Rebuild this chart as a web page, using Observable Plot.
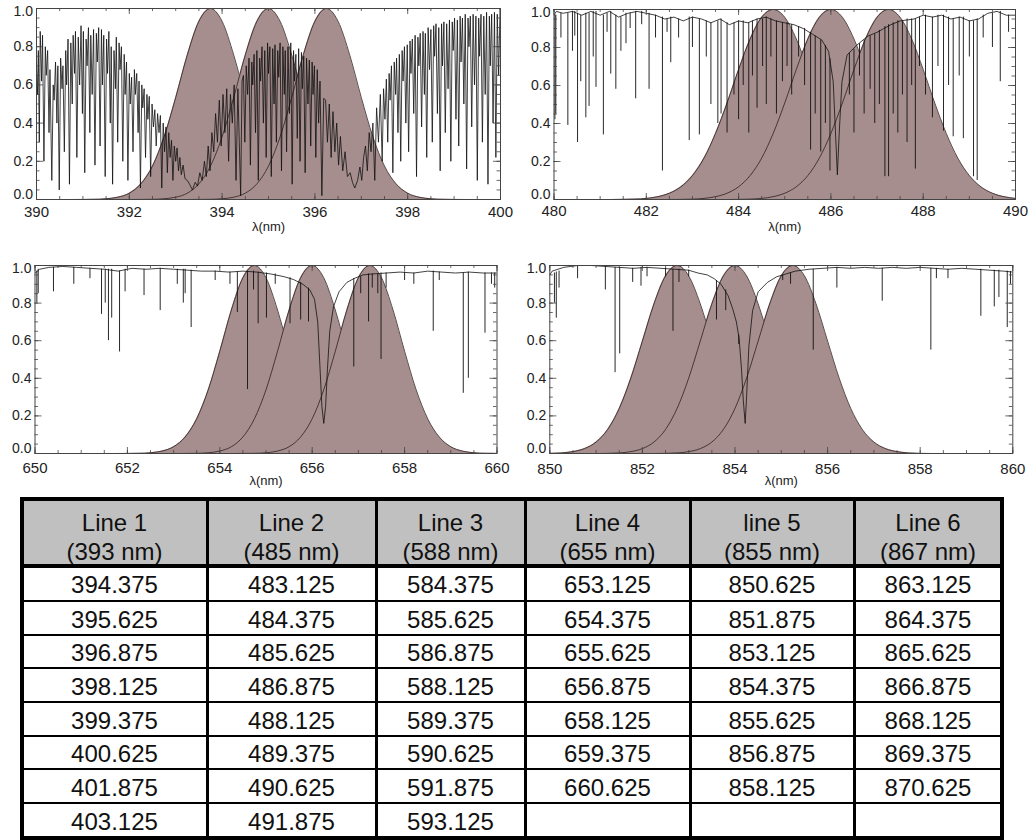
<!DOCTYPE html>
<html>
<head>
<meta charset="utf-8">
<script src="https://cdn.jsdelivr.net/npm/d3@7"></script>
<script src="https://cdn.jsdelivr.net/npm/@observablehq/plot@0.6"></script>
<style>
  body { margin: 0; background: #fff; }
  #page { position: relative; width: 1031px; height: 840px; font-family: "Liberation Sans", Arial, Helvetica, sans-serif; }
  #page svg { position: absolute; }
  .cell { position: absolute; display: flex; align-items: center; justify-content: center; text-align: center;
          font-size: 24px; line-height: 28.5px; color: #111; }
  .rule { position: absolute; background: #000; }
</style>
</head>
<body>
<div id="page"></div>
<script>
// ---------- Filter transmission profiles (half profile, symmetric about each centre) ----------
const profileOffsets = [0, 0.25, 0.5, 0.75, 1.0, 1.25, 1.5, 1.75, 2.0, 2.25, 2.5, 3.0, 3.5];
const profile393 = [1, 0.933, 0.757, 0.534, 0.328, 0.175, 0.082, 0.033, 0.012, 0.004, 0.001, 0, 0];
const profile486 = [1, 0.959, 0.845, 0.684, 0.508, 0.348, 0.218, 0.126, 0.067, 0.033, 0.015, 0.002, 0];
const profile656 = [1, 0.935, 0.763, 0.544, 0.339, 0.185, 0.088, 0.036, 0.013, 0.004, 0.001, 0, 0];
const profile854 = [1, 0.945, 0.796, 0.598, 0.401, 0.240, 0.128, 0.061, 0.026, 0.010, 0.003, 0, 0];

// Filter centres (nm)
const filters393 = [393.75, 395.0, 396.25];
const filters486 = [484.75, 486.0, 487.25];
const filters656 = [654.75, 656.0, 657.25];
const filters854 = [852.75, 854.0, 855.25];

// Axis tick values
const xTicks393 = [390, 392, 394, 396, 398, 400];
const xTicks486 = [480, 482, 484, 486, 488, 490];
const xTicks656 = [650, 652, 654, 656, 658, 660];
const xTicks854 = [850, 852, 854, 856, 858, 860];
const yTicks = [0, 0.2, 0.4, 0.6, 0.8, 1.0];

// ---------- Normalised solar spectra: [wavelength nm, intensity] ----------
// Ca II H & K region
const spectrum393 = [
  [390.00,0.70],[390.02,0.55],[390.04,0.78],[390.06,0.30],[390.08,0.88],[390.11,0.62],[390.13,0.86],[390.16,0.20],
  [390.19,0.80],[390.21,0.65],[390.24,0.78],[390.27,0.35],[390.29,0.68],[390.33,0.10],[390.36,0.60],[390.38,0.52],
  [390.41,0.72],[390.44,0.40],[390.46,0.70],[390.49,0.05],[390.52,0.74],[390.55,0.58],[390.57,0.70],[390.60,0.25],
  [390.63,0.78],[390.65,0.60],[390.68,0.84],[390.71,0.08],[390.74,0.82],[390.77,0.50],[390.79,0.86],[390.82,0.66],
  [390.84,0.88],[390.87,0.22],[390.90,0.85],[390.93,0.60],[390.96,0.91],[390.99,0.45],[391.01,0.88],[391.04,0.14],
  [391.07,0.84],[391.09,0.70],[391.12,0.90],[391.15,0.35],[391.17,0.86],[391.20,0.55],[391.23,0.89],[391.26,0.18],
  [391.29,0.87],[391.31,0.72],[391.34,0.90],[391.37,0.28],[391.40,0.89],[391.42,0.60],[391.45,0.86],[391.48,0.12],
  [391.51,0.84],[391.53,0.66],[391.56,0.88],[391.59,0.40],[391.61,0.80],[391.64,0.08],[391.67,0.78],[391.70,0.58],
  [391.72,0.85],[391.75,0.30],[391.78,0.82],[391.80,0.68],[391.83,0.80],[391.86,0.20],[391.89,0.76],[391.91,0.55],
  [391.94,0.72],[391.97,0.10],[392.00,0.66],[392.02,0.50],[392.05,0.64],[392.08,0.25],[392.11,0.68],[392.13,0.55],
  [392.16,0.66],[392.19,0.35],[392.21,0.62],[392.24,0.06],[392.27,0.60],[392.29,0.48],[392.32,0.58],[392.35,0.22],
  [392.38,0.55],[392.40,0.42],[392.43,0.54],[392.46,0.12],[392.49,0.50],[392.52,0.38],[392.55,0.47],[392.58,0.28],
  [392.61,0.45],[392.64,0.35],[392.67,0.44],[392.70,0.06],[392.73,0.40],[392.76,0.25],[392.79,0.38],[392.82,0.14],
  [392.85,0.35],[392.88,0.22],[392.91,0.31],[392.94,0.10],[392.97,0.28],[393.00,0.20],[393.03,0.27],[393.06,0.15],
  [393.09,0.22],[393.12,0.13],[393.16,0.18],[393.20,0.11],[393.25,0.10],[393.30,0.08],[393.36,0.05],[393.42,0.09],
  [393.47,0.07],[393.52,0.14],[393.57,0.10],[393.62,0.20],[393.66,0.12],[393.70,0.28],[393.74,0.15],[393.78,0.35],
  [393.82,0.25],[393.86,0.45],[393.90,0.30],[393.94,0.52],[393.98,0.28],[394.02,0.55],[394.06,0.35],[394.10,0.58],
  [394.14,0.20],[394.18,0.55],[394.22,0.40],[394.26,0.60],[394.30,0.10],[394.34,0.58],[394.37,0.30],[394.40,0.02],
  [394.43,0.62],[394.46,0.65],[394.49,0.30],[394.52,0.70],[394.55,0.55],[394.58,0.74],[394.61,0.18],[394.64,0.72],
  [394.66,0.60],[394.69,0.76],[394.72,0.35],[394.75,0.78],[394.78,0.10],[394.81,0.74],[394.83,0.62],[394.86,0.80],
  [394.89,0.40],[394.92,0.78],[394.95,0.22],[394.98,0.82],[395.00,0.66],[395.03,0.80],[395.06,0.12],[395.09,0.79],
  [395.12,0.50],[395.14,0.81],[395.17,0.30],[395.20,0.78],[395.22,0.64],[395.25,0.82],[395.28,0.15],[395.31,0.80],
  [395.34,0.55],[395.36,0.78],[395.39,0.25],[395.42,0.80],[395.45,0.45],[395.48,0.82],[395.51,0.08],[395.54,0.78],
  [395.56,0.62],[395.59,0.76],[395.62,0.32],[395.65,0.79],[395.68,0.20],[395.71,0.77],[395.73,0.58],[395.76,0.75],
  [395.79,0.14],[395.82,0.74],[395.85,0.50],[395.88,0.73],[395.91,0.28],[395.94,0.72],[395.96,0.55],[395.99,0.70],
  [396.02,0.22],[396.05,0.68],[396.08,0.40],[396.11,0.62],[396.15,0.02],[396.19,0.53],[396.23,0.52],[396.27,0.30],
  [396.31,0.50],[396.35,0.22],[396.39,0.46],[396.43,0.25],[396.47,0.40],[396.51,0.18],[396.55,0.33],[396.60,0.15],
  [396.65,0.25],[396.70,0.12],[396.76,0.14],[396.81,0.09],[396.86,0.06],[396.92,0.10],[396.97,0.17],[397.01,0.10],
  [397.05,0.22],[397.09,0.28],[397.13,0.15],[397.17,0.35],[397.21,0.25],[397.25,0.40],[397.29,0.10],[397.33,0.48],
  [397.37,0.30],[397.41,0.55],[397.45,0.20],[397.48,0.58],[397.51,0.42],[397.54,0.63],[397.57,0.30],[397.60,0.66],
  [397.62,0.52],[397.65,0.70],[397.68,0.14],[397.71,0.72],[397.74,0.55],[397.76,0.74],[397.79,0.35],[397.82,0.76],
  [397.85,0.20],[397.88,0.78],[397.90,0.62],[397.93,0.80],[397.96,0.40],[397.99,0.81],[398.02,0.25],[398.05,0.83],
  [398.07,0.66],[398.10,0.84],[398.13,0.45],[398.16,0.86],[398.19,0.12],[398.22,0.85],[398.24,0.70],[398.27,0.87],
  [398.30,0.38],[398.33,0.88],[398.36,0.55],[398.38,0.87],[398.41,0.22],[398.44,0.90],[398.47,0.68],[398.50,0.89],
  [398.53,0.30],[398.56,0.91],[398.58,0.75],[398.61,0.92],[398.64,0.45],[398.67,0.90],[398.70,0.15],[398.73,0.92],
  [398.75,0.70],[398.78,0.93],[398.81,0.35],[398.84,0.92],[398.87,0.58],[398.90,0.94],[398.93,0.20],[398.96,0.93],
  [398.98,0.78],[399.01,0.95],[399.04,0.42],[399.07,0.94],[399.10,0.28],[399.13,0.96],[399.15,0.72],[399.18,0.95],
  [399.21,0.50],[399.24,0.97],[399.27,0.16],[399.30,0.95],[399.32,0.80],[399.35,0.96],[399.38,0.38],[399.41,0.97],
  [399.44,0.60],[399.47,0.96],[399.50,0.10],[399.53,0.95],[399.55,0.75],[399.58,0.97],[399.61,0.30],[399.64,0.96],
  [399.67,0.55],[399.70,0.98],[399.73,0.08],[399.76,0.96],[399.78,0.70],[399.81,0.97],[399.84,0.40],[399.87,0.98],
  [399.90,0.22],[399.93,0.97],[399.96,0.65],[399.99,1.00],[400.00,0.98]
];

// H-beta region: smooth envelope plus narrow absorption lines [nm, envelope, line depth]
const continuum486 = [
  [480.00,0.97],[480.05,0.99],[480.20,0.98],[480.40,0.99],[480.60,0.97],[480.80,0.99],[481.00,0.97],[481.20,0.99],
  [481.40,0.96],[481.60,0.98],[481.80,0.99],[482.00,0.98],[482.20,0.97],[482.40,0.95],[482.60,0.96],[482.80,0.94],
  [483.00,0.96],[483.20,0.95],[483.40,0.93],[483.60,0.95],[483.80,0.92],[484.00,0.94],[484.20,0.93],[484.40,0.95],
  [484.60,0.96],[484.80,0.94],[485.00,0.93],[485.20,0.92],[485.40,0.90],[485.60,0.87],[485.80,0.84],[485.95,0.78],
  [486.05,0.62],[486.10,0.35],[486.14,0.13],[486.18,0.35],[486.24,0.62],[486.35,0.76],[486.55,0.81],[486.80,0.86],
  [487.00,0.88],[487.30,0.92],[487.50,0.94],[487.80,0.95],[488.00,0.97],[488.20,0.96],[488.40,0.97],[488.60,0.95],
  [488.80,0.96],[489.00,0.94],[489.20,0.95],[489.40,0.98],[489.60,0.99],[489.80,0.97],[490.00,0.97]
];
const lines486 = [
  [480.02,0.97,0.42],[480.04,0.97,0.45],[480.15,0.98,0.85],[480.30,0.98,0.39],[480.40,0.99,0.78],[480.45,0.99,0.86],
  [480.51,0.98,0.30],[480.58,0.97,0.62],[480.69,0.98,0.43],[480.76,0.98,0.49],[480.85,0.99,0.75],[480.91,0.99,0.59],
  [481.07,0.97,0.34],[481.15,0.98,0.88],[481.23,0.99,0.66],[481.34,0.97,0.58],[481.45,0.96,0.78],[481.56,0.98,0.82],
  [481.65,0.98,0.90],[481.77,0.99,0.53],[481.90,0.99,0.92],[482.06,0.98,0.58],[482.20,0.97,0.85],[482.35,0.96,0.15],
  [482.45,0.95,0.88],[482.53,0.96,0.72],[482.70,0.95,0.85],[482.93,0.96,0.31],[483.00,0.96,0.80],[483.15,0.95,0.34],
  [483.30,0.94,0.75],[483.40,0.93,0.50],[483.55,0.94,0.40],[483.62,0.95,0.45],[483.75,0.93,0.35],[483.90,0.93,0.55],
  [484.00,0.94,0.42],[484.10,0.94,0.60],[484.22,0.93,0.35],[484.30,0.94,0.65],[484.40,0.95,0.48],[484.52,0.95,0.70],
  [484.60,0.96,0.50],[484.70,0.95,0.75],[484.82,0.94,0.45],[484.95,0.93,0.62],[485.05,0.93,0.70],[485.15,0.92,0.55],
  [485.30,0.91,0.75],[485.43,0.90,0.60],[485.56,0.88,0.26],[485.66,0.86,0.45],[485.78,0.84,0.25],[485.88,0.81,0.40],
  [485.98,0.74,0.15],[486.40,0.77,0.55],[486.50,0.79,0.35],[486.62,0.82,0.65],[486.72,0.84,0.45],[486.85,0.86,0.58],
  [486.95,0.87,0.40],[487.05,0.89,0.50],[487.17,0.91,0.12],[487.25,0.92,0.12],[487.35,0.93,0.45],[487.45,0.94,0.35],
  [487.55,0.94,0.55],[487.65,0.95,0.30],[487.75,0.95,0.60],[487.83,0.95,0.16],[487.92,0.96,0.70],[488.05,0.97,0.55],
  [488.20,0.96,0.43],[488.32,0.97,0.70],[488.44,0.97,0.36],[488.55,0.96,0.60],[488.65,0.95,0.33],[488.78,0.96,0.65],
  [488.87,0.96,0.32],[489.00,0.94,0.75],[489.09,0.94,0.12],[489.17,0.95,0.10],[489.30,0.97,0.85],[489.50,0.98,0.80],
  [489.67,0.99,0.62],[489.85,0.97,0.88]
];

// H-alpha region
const continuum656 = [
  [650.00,0.96],[650.10,0.98],[650.30,0.99],[650.60,0.995],[650.90,0.99],[651.20,0.985],[651.50,0.98],[651.80,0.97],
  [652.10,0.985],[652.40,0.98],[652.70,0.985],[653.00,0.98],[653.30,0.975],[653.60,0.97],[653.90,0.97],[654.20,0.965],
  [654.50,0.97],[654.80,0.965],[655.10,0.955],[655.40,0.94],[655.60,0.925],[655.80,0.90],[655.95,0.87],[656.05,0.82],
  [656.12,0.70],[656.17,0.45],[656.21,0.25],[656.25,0.16],[656.29,0.25],[656.33,0.45],[656.38,0.65],[656.46,0.78],
  [656.58,0.86],[656.75,0.91],[656.90,0.93],[657.10,0.95],[657.30,0.955],[657.60,0.96],[657.90,0.965],[658.20,0.96],
  [658.50,0.97],[658.80,0.965],[659.10,0.96],[659.40,0.965],[659.70,0.96],[660.00,0.96]
];
const lines656 = [
  [650.04,0.97,0.80],[650.07,0.98,0.85],[650.40,0.99,0.86],[650.84,0.99,0.90],[651.19,0.985,0.93],[651.44,0.98,0.74],
  [651.52,0.98,0.80],[651.59,0.98,0.60],[651.66,0.98,0.72],[651.83,0.97,0.54],[651.95,0.98,0.86],[652.36,0.98,0.84],
  [652.71,0.985,0.76],[653.08,0.98,0.90],[653.21,0.98,0.80],[653.25,0.98,0.85],[653.38,0.975,0.67],[653.90,0.97,0.92],
  [654.22,0.965,0.90],[654.38,0.965,0.75],[654.60,0.97,0.34],[654.73,0.97,0.87],[654.83,0.965,0.69],[655.01,0.96,0.72],
  [655.20,0.955,0.90],[655.52,0.935,0.69],[655.75,0.91,0.71],[655.92,0.88,0.70],[656.90,0.93,0.46],[657.05,0.94,0.85],
  [657.22,0.955,0.70],[657.30,0.955,0.88],[657.42,0.955,0.85],[657.49,0.96,0.50],[657.60,0.96,0.88],[658.00,0.965,0.92],
  [658.20,0.96,0.90],[658.62,0.97,0.65],[658.75,0.965,0.92],[659.27,0.96,0.32],[659.38,0.965,0.40],[659.74,0.96,0.64],
  [659.88,0.96,0.90],[659.95,0.96,0.88]
];

// Ca II 854.2 nm region
const continuum854 = [
  [850.00,0.95],[850.05,0.97],[850.30,0.99],[850.60,1.00],[850.90,1.00],[851.20,0.995],[851.50,0.99],[851.80,0.985],
  [852.10,0.99],[852.40,0.985],[852.70,0.98],[853.00,0.975],[853.20,0.96],[853.40,0.95],[853.55,0.93],[853.70,0.90],
  [853.85,0.84],[853.95,0.77],[854.03,0.70],[854.09,0.61],[854.14,0.45],[854.18,0.28],[854.22,0.16],[854.25,0.30],
  [854.30,0.57],[854.38,0.76],[854.50,0.86],[854.70,0.91],[854.90,0.94],[855.10,0.955],[855.30,0.97],[855.60,0.98],
  [855.90,0.985],[856.20,0.99],[856.50,0.985],[856.80,0.99],[857.10,0.985],[857.40,0.99],[857.70,0.985],[858.00,0.99],
  [858.30,0.985],[858.60,0.98],[858.90,0.985],[859.20,0.98],[859.50,0.975],[859.80,0.97],[860.00,0.965]
];
const lines854 = [
  [850.10,0.96,0.80],[850.14,0.965,0.72],[850.20,0.97,0.88],[850.60,1.00,0.93],[851.20,0.995,0.87],[851.41,0.99,0.43],
  [851.51,0.99,0.53],[851.79,0.985,0.91],[851.97,0.99,0.89],[852.10,0.99,0.94],[852.50,0.985,0.94],[852.66,0.98,0.65],
  [852.79,0.98,0.91],[853.00,0.975,0.94],[853.60,0.92,0.71],[853.80,0.87,0.76],[854.08,0.63,0.58],[855.03,0.95,0.92],
  [855.20,0.96,0.90],[855.69,0.98,0.55],[856.20,0.99,0.88],[857.18,0.985,0.81],[858.23,0.985,0.55],[858.35,0.985,0.93],
  [858.60,0.98,0.93],[859.31,0.98,0.73],[859.60,0.975,0.78],[859.70,0.975,0.83],[859.88,0.97,0.67],[859.95,0.968,0.90]
];

// ---------- Table of filter positions ----------
const lineNames   = ["Line 1", "Line 2", "Line 3", "Line 4", "line 5", "Line 6"];
const lineCentres = [393, 485, 588, 655, 855, 867];
const positions1 = [394.375, 395.625, 396.875, 398.125, 399.375, 400.625, 401.875, 403.125];
const positions2 = [483.125, 484.375, 485.625, 486.875, 488.125, 489.375, 490.625, 491.875];
const positions3 = [584.375, 585.625, 586.875, 588.125, 589.375, 590.625, 591.875, 593.125];
const positions4 = [653.125, 654.375, 655.625, 656.875, 658.125, 659.375, 660.625];
const positions5 = [850.625, 851.875, 853.125, 854.375, 855.625, 856.875, 858.125];
const positions6 = [863.125, 864.375, 865.625, 866.875, 868.125, 869.375, 870.625];

// ---------- Drawing ----------
const page = document.getElementById("page");
const FILL = "#a68e8e", EDGE = "#2e2020", INK = "#111", AXIS = "#444";

function spectrumPanel(o) {
  const {domain, ticks, filters, profile, line, continuum, lines,
         left, top, width, height, mt, mb, ml, mr, pad} = o;
  const innerW = width - ml - mr, innerH = height - mt - mb;

  // mirror the half profile into a full symmetric profile
  const fullProfile = [
    ...profile.slice(1).map((t, i) => [-profileOffsets[i + 1], t]).reverse(),
    ...profile.map((t, i) => [profileOffsets[i], t])
  ];

  const marks = [];
  for (const c of filters) {
    const pts = fullProfile.map(([dx, t]) => ({x: c + dx, y: t}));
    marks.push(Plot.areaY(pts, {x: "x", y: "y", fill: FILL, curve: "monotone-x", clip: true}));
    marks.push(Plot.lineY(pts, {x: "x", y: "y", stroke: EDGE, strokeWidth: 0.8, curve: "monotone-x", clip: true}));
  }
  if (line) marks.push(Plot.line(line, {x: d => d[0], y: d => d[1], stroke: INK, strokeWidth: 0.8, clip: true}));
  if (continuum) marks.push(Plot.line(continuum, {x: d => d[0], y: d => d[1], stroke: INK, strokeWidth: 0.8, clip: true}));
  if (lines) marks.push(Plot.ruleX(lines, {x: d => d[0], y1: d => d[1], y2: d => d[2], stroke: INK, strokeWidth: 0.9, clip: true}));

  // inward tick marks on all four sides
  const xMinor = d3.range(domain[0], domain[1] + 1e-9, 0.5);
  const yMinor = d3.range(0, 1 + 1e-9, 0.05);
  const tk = {stroke: AXIS, strokeWidth: 0.8};
  marks.push(
    Plot.frame({stroke: AXIS, strokeWidth: 1}),
    Plot.tickX(xMinor, {x: d => d, insetTop: innerH - 3, ...tk}),
    Plot.tickX(xMinor, {x: d => d, insetBottom: innerH - 3, ...tk}),
    Plot.tickX(ticks, {x: d => d, insetTop: innerH - 6, ...tk}),
    Plot.tickX(ticks, {x: d => d, insetBottom: innerH - 6, ...tk}),
    Plot.tickY(yMinor, {y: d => d, insetRight: innerW - 3.5, ...tk}),
    Plot.tickY(yMinor, {y: d => d, insetLeft: innerW - 3.5, ...tk}),
    Plot.tickY(yTicks, {y: d => d, insetRight: innerW - 7, ...tk}),
    Plot.tickY(yTicks, {y: d => d, insetLeft: innerW - 7, ...tk})
  );

  // tick labels
  const yl = {tickSize: 0, tickPadding: 3.5, fontSize: 14, tickFormat: d => d.toFixed(1), label: null};
  marks.push(
    Plot.axisX(ticks, {tickSize: 0, tickPadding: pad, fontSize: 15, tickFormat: d => String(d), label: null}),
    Plot.axisY(yTicks.slice(1, -1), yl),
    Plot.axisY([0], {...yl, dy: -5}),
    Plot.axisY([1], {...yl, dy: 3}),
    Plot.text(["λ(nm)"], {text: d => d, frameAnchor: "bottom", dy: 31, fontSize: 13, fill: "#222"})
  );

  const svg = Plot.plot({
    width, height,
    marginTop: mt, marginBottom: mb, marginLeft: ml, marginRight: mr,
    x: {domain, axis: null},
    y: {domain: [0, 1], axis: null},
    style: {fontFamily: "'Liberation Sans', Arial, Helvetica, sans-serif", color: "#222",
            background: "transparent", overflow: "visible"},
    marks
  });
  svg.style.left = left + "px";
  svg.style.top = top + "px";
  page.appendChild(svg);
}

spectrumPanel({domain: [390, 400], ticks: xTicks393, filters: filters393, profile: profile393,
  line: spectrum393, left: 0, top: 0, width: 515, height: 240, mt: 8, mb: 41, ml: 36, mr: 15, pad: 7});
spectrumPanel({domain: [480, 490], ticks: xTicks486, filters: filters486, profile: profile486,
  continuum: continuum486, lines: lines486, left: 515, top: 0, width: 516, height: 240, mt: 9, mb: 41, ml: 38.5, mr: 16, pad: 5.5});
spectrumPanel({domain: [650, 660], ticks: xTicks656, filters: filters656, profile: profile656,
  continuum: continuum656, lines: lines656, left: 0, top: 240, width: 515, height: 256, mt: 25, mb: 43, ml: 34.5, mr: 18.5, pad: 9});
spectrumPanel({domain: [850, 860], ticks: xTicks854, filters: filters854, profile: profile854,
  continuum: continuum854, lines: lines854, left: 515, top: 240, width: 516, height: 256, mt: 25, mb: 43, ml: 34.3, mr: 18.7, pad: 9.5});

// ---------- Table ----------
const colX = [22, 207, 376, 525, 690, 854, 1002];
const rowY = [499, 566, 601, 635, 668, 702, 736, 769, 803, 838];
const columns = [positions1, positions2, positions3, positions4, positions5, positions6];

function box(cls, l, t, w, h, html, bg) {
  const d = document.createElement("div");
  d.className = cls;
  Object.assign(d.style, {left: l + "px", top: t + "px", width: w + "px", height: h + "px"});
  if (bg) d.style.background = bg;
  if (html != null) d.innerHTML = html;
  page.appendChild(d);
}

// header background
box("rule", colX[0], rowY[0], colX[6] - colX[0], rowY[1] - rowY[0], null, "#c0c0c0");
// header text
lineNames.forEach((name, i) => {
  box("cell", colX[i], rowY[0] + 5, colX[i + 1] - colX[i], rowY[1] - rowY[0], `${name}<br>(${lineCentres[i]} nm)`);
});
// values
columns.forEach((vals, i) => {
  vals.forEach((v, r) => {
    box("cell", colX[i], rowY[r + 1] + 2, colX[i + 1] - colX[i], rowY[r + 2] - rowY[r + 1], v.toFixed(3));
  });
});
// grid lines
colX.forEach((x, i) => {
  const w = (i === 0 || i === colX.length - 1) ? 4 : 3;
  box("rule", x - w / 2, rowY[0] - 2, w, rowY[rowY.length - 1] - rowY[0] + 4);
});
rowY.forEach((y, r) => {
  const h = (r === 0 || r === 1 || r === rowY.length - 1) ? 4 : 2;
  box("rule", colX[0] - 2, y - h / 2, colX[6] - colX[0] + 4, h);
});
</script>
</body>
</html>
